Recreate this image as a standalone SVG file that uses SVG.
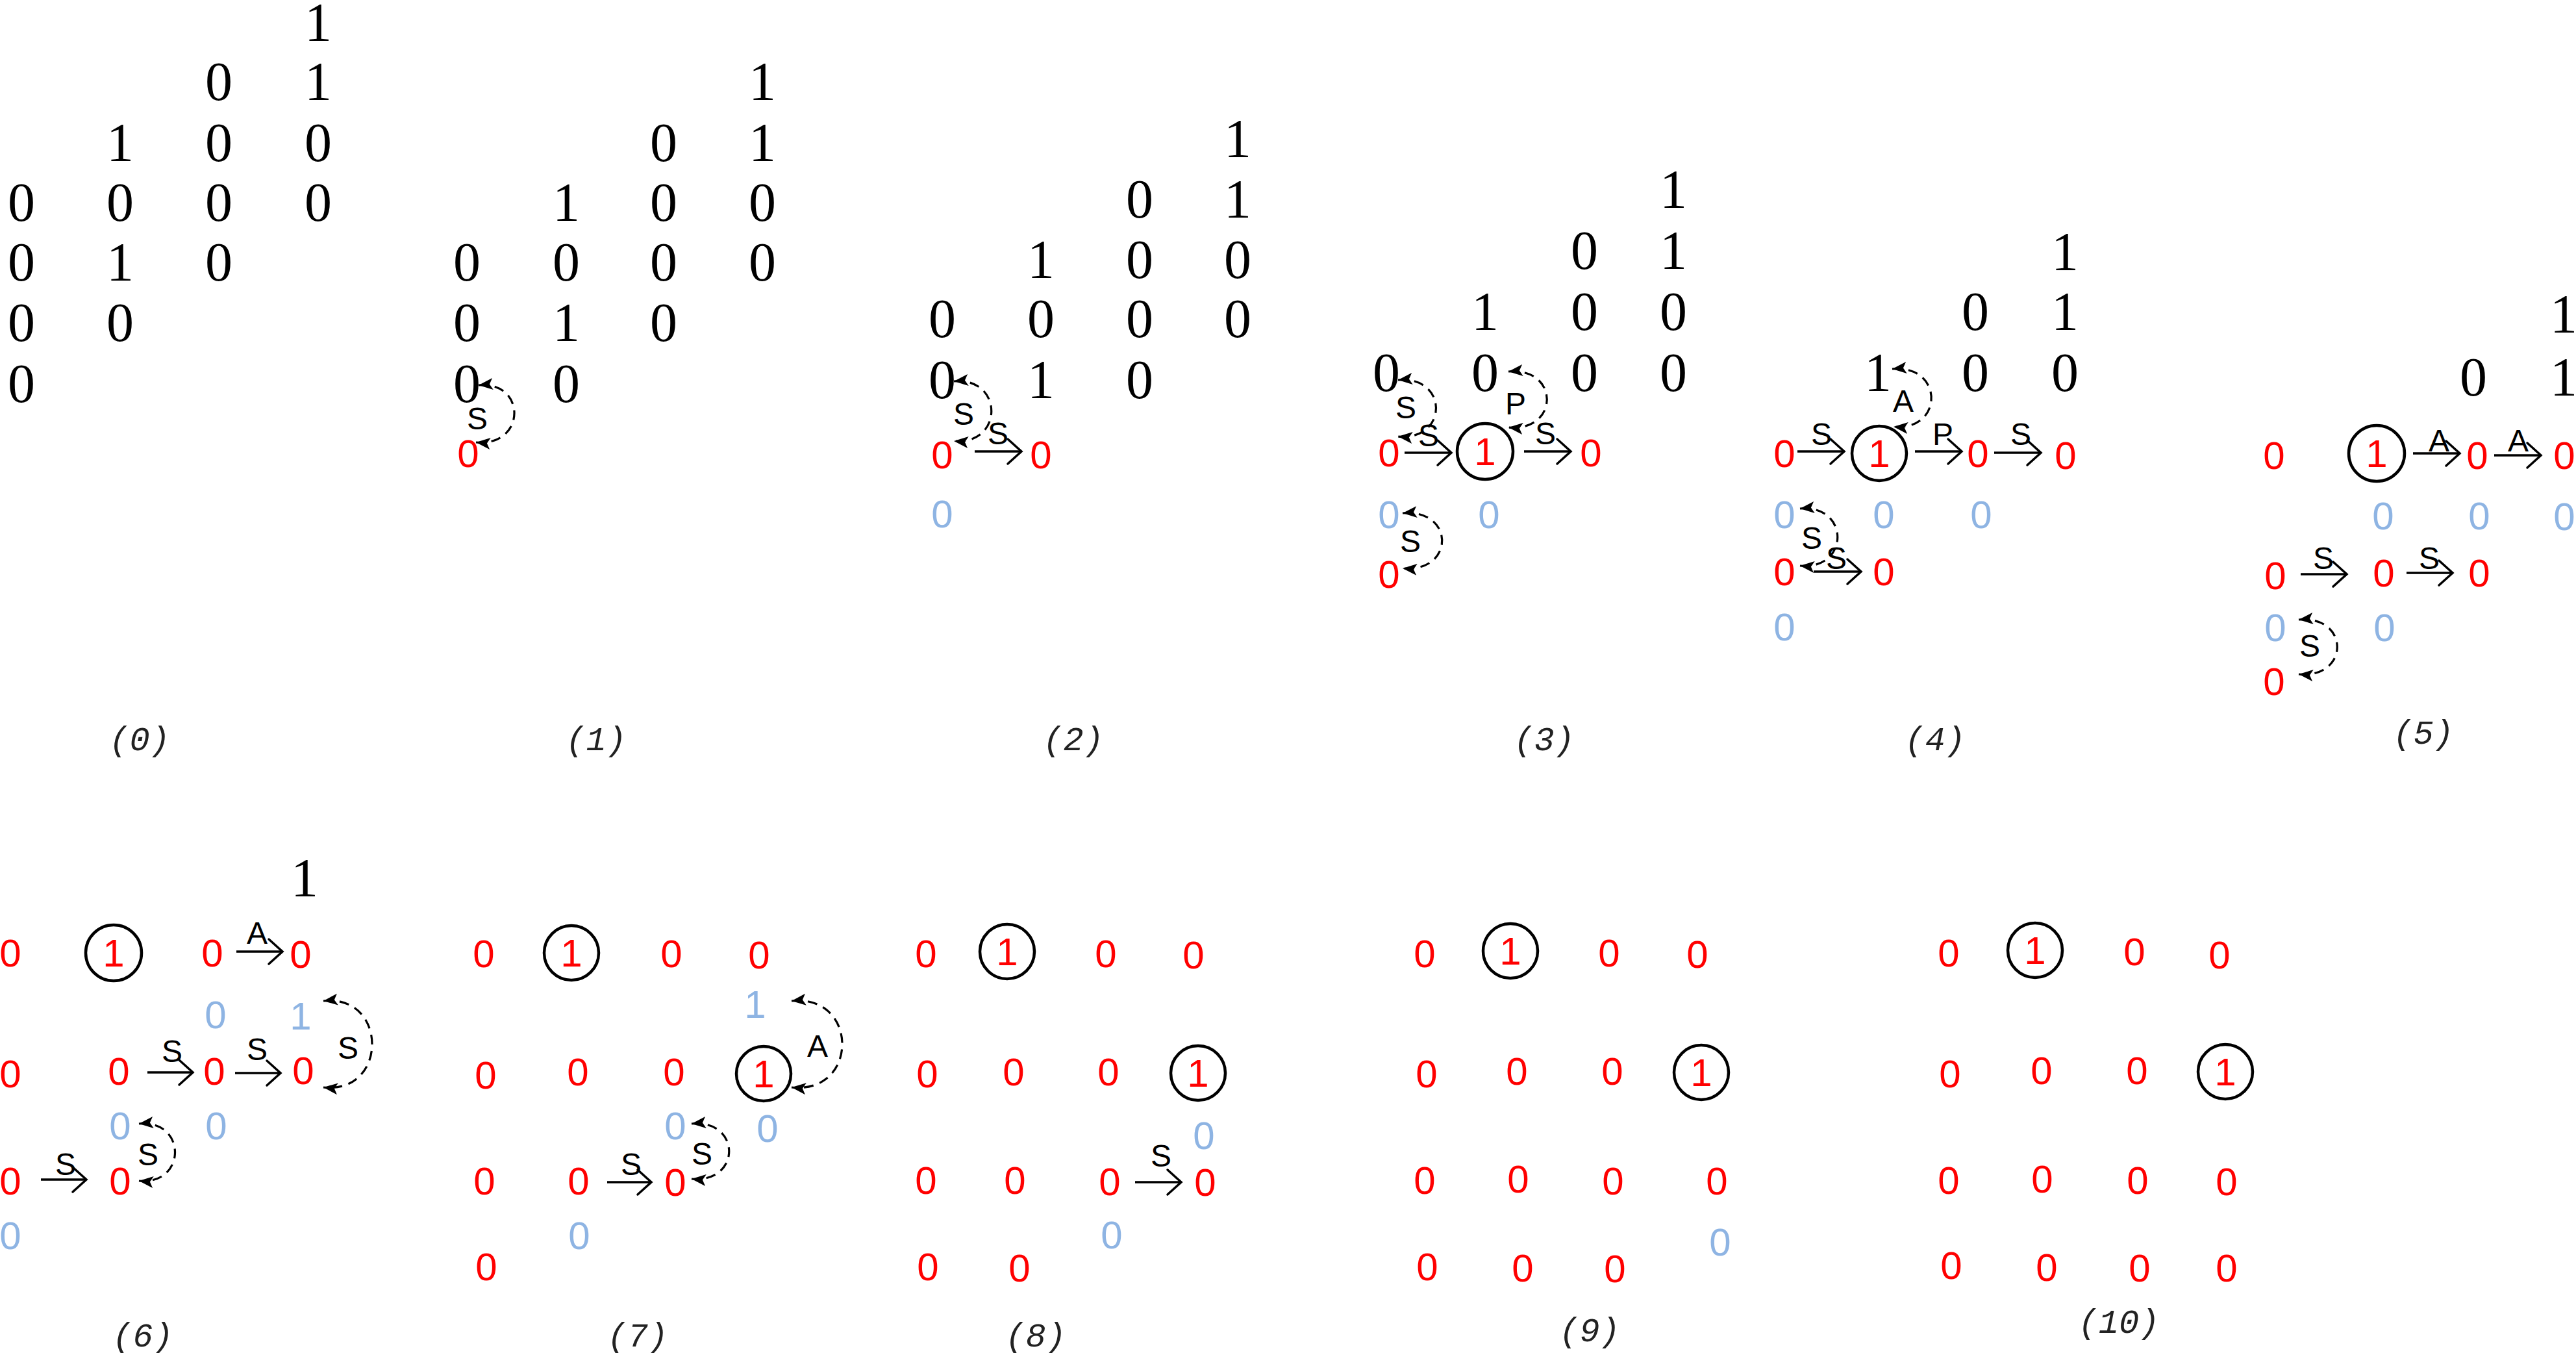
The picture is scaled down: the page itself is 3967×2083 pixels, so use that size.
<svg xmlns="http://www.w3.org/2000/svg" width="3967" height="2083" viewBox="0 0 3967 2083">
<style>
.b{font-family:"Liberation Serif","DejaVu Serif",serif;font-size:84px;fill:#000;text-anchor:middle}
.r{font-family:"Liberation Sans",Arial,sans-serif;font-size:60px;fill:#ff0000;text-anchor:middle}
.u{font-family:"Liberation Sans",Arial,sans-serif;font-size:60px;fill:#8eb4e3;text-anchor:middle}
.l{font-family:"Liberation Sans",Arial,sans-serif;font-size:48px;fill:#000;text-anchor:middle}
.cap{font-family:"Liberation Mono","DejaVu Sans Mono",monospace;font-style:italic;font-size:52px;fill:#222;text-anchor:middle}
.ring{fill:none;stroke:#000;stroke-width:4.5}
.arr{fill:none;stroke:#000;stroke-width:3.5;marker-end:url(#open)}
.loop{fill:none;stroke:#000;stroke-width:3.2;stroke-dasharray:15 10;marker-start:url(#tri);marker-end:url(#tri)}
</style>
<defs>
<marker id="open" markerUnits="userSpaceOnUse" markerWidth="40" markerHeight="50" refX="23" refY="21" orient="auto" overflow="visible">
<path d="M2,2 L23,21 L2,40" fill="none" stroke="#000" stroke-width="3.5" stroke-linecap="round"/>
</marker>
<marker id="tri" markerUnits="userSpaceOnUse" markerWidth="30" markerHeight="30" refX="22" refY="9" orient="auto-start-reverse" overflow="visible">
<path d="M0,0 L22,9 L0,18 L5,9 z" fill="#000"/>
</marker>
</defs>
<rect width="3967" height="2083" fill="#fff"/>

<g id="panel0">
<g id="p0-a"><text class="b" x="33" y="340">0</text></g>
<g id="p0-b"><text class="b" x="33" y="432">0</text></g>
<g id="p0-c"><text class="b" x="33" y="525">0</text></g>
<g id="p0-d"><text class="b" x="33" y="619">0</text></g>
<g id="p0-e"><text class="b" x="185" y="248">1</text></g>
<g id="p0-f"><text class="b" x="185" y="340">0</text></g>
<g id="p0-g"><text class="b" x="185" y="432">1</text></g>
<g id="p0-h"><text class="b" x="185" y="525">0</text></g>
<g id="p0-i"><text class="b" x="337" y="154">0</text></g>
<g id="p0-j"><text class="b" x="337" y="248">0</text></g>
<g id="p0-k"><text class="b" x="337" y="340">0</text></g>
<g id="p0-l"><text class="b" x="337" y="432">0</text></g>
<g id="p0-m"><text class="b" x="490" y="63">1</text></g>
<g id="p0-n"><text class="b" x="490" y="154">1</text></g>
<g id="p0-o"><text class="b" x="490" y="248">0</text></g>
<g id="p0-p"><text class="b" x="490" y="340">0</text></g>
<g id="p0-cap"><text class="cap" x="215" y="1155">(0)</text></g>
</g>

<g id="panel1">
<g id="p1-a"><text class="b" x="719" y="432">0</text></g>
<g id="p1-b"><text class="b" x="719" y="525">0</text></g>
<g id="p1-c"><text class="b" x="719" y="619">0</text></g>
<g id="p1-d"><text class="r" x="721" y="719">0</text></g>
<g id="p1-e"><text class="b" x="872" y="340">1</text></g>
<g id="p1-f"><text class="b" x="872" y="432">0</text></g>
<g id="p1-g"><text class="b" x="872" y="525">1</text></g>
<g id="p1-h"><text class="b" x="872" y="619">0</text></g>
<g id="p1-i"><text class="b" x="1022" y="248">0</text></g>
<g id="p1-j"><text class="b" x="1022" y="340">0</text></g>
<g id="p1-k"><text class="b" x="1022" y="432">0</text></g>
<g id="p1-l"><text class="b" x="1022" y="525">0</text></g>
<g id="p1-m"><text class="b" x="1174" y="154">1</text></g>
<g id="p1-n"><text class="b" x="1174" y="248">1</text></g>
<g id="p1-o"><text class="b" x="1174" y="340">0</text></g>
<g id="p1-p"><text class="b" x="1174" y="432">0</text></g>
<g id="p1-cap"><text class="cap" x="918" y="1155">(1)</text></g>
</g>

<g id="panel2">
<g id="p2-a"><text class="b" x="1451" y="519">0</text></g>
<g id="p2-b"><text class="b" x="1451" y="613">0</text></g>
<g id="p2-c"><text class="r" x="1451" y="721">0</text></g>
<g id="p2-d"><text class="u" x="1451" y="812">0</text></g>
<g id="p2-e"><text class="b" x="1603" y="428">1</text></g>
<g id="p2-f"><text class="b" x="1603" y="519">0</text></g>
<g id="p2-g"><text class="b" x="1603" y="613">1</text></g>
<g id="p2-h"><text class="r" x="1603" y="721">0</text></g>
<g id="p2-i"><text class="b" x="1755" y="335">0</text></g>
<g id="p2-j"><text class="b" x="1755" y="428">0</text></g>
<g id="p2-k"><text class="b" x="1755" y="519">0</text></g>
<g id="p2-l"><text class="b" x="1755" y="613">0</text></g>
<g id="p2-m"><text class="b" x="1906" y="242">1</text></g>
<g id="p2-n"><text class="b" x="1906" y="335">1</text></g>
<g id="p2-o"><text class="b" x="1906" y="428">0</text></g>
<g id="p2-p"><text class="b" x="1906" y="519">0</text></g>
<g id="p2-cap"><text class="cap" x="1653" y="1155">(2)</text></g>
</g>

<g id="panel3">
<g id="p3-a"><text class="b" x="2135" y="602">0</text></g>
<g id="p3-b"><text class="r" x="2139" y="718">0</text></g>
<g id="p3-c"><text class="u" x="2139" y="813">0</text></g>
<g id="p3-d"><text class="r" x="2139" y="905">0</text></g>
<g id="p3-e"><text class="b" x="2287" y="508">1</text></g>
<g id="p3-f"><text class="b" x="2287" y="602">0</text></g>
<g id="p3-g"><circle class="ring" cx="2287" cy="695" r="43"/><text class="r" x="2287" y="716">1</text></g>
<g id="p3-h"><text class="u" x="2293" y="813">0</text></g>
<g id="p3-i"><text class="b" x="2440" y="414">0</text></g>
<g id="p3-j"><text class="b" x="2440" y="508">0</text></g>
<g id="p3-k"><text class="b" x="2440" y="602">0</text></g>
<g id="p3-l"><text class="r" x="2450" y="718">0</text></g>
<g id="p3-m"><text class="b" x="2577" y="320">1</text></g>
<g id="p3-n"><text class="b" x="2577" y="414">1</text></g>
<g id="p3-o"><text class="b" x="2577" y="508">0</text></g>
<g id="p3-p"><text class="b" x="2577" y="602">0</text></g>
<g id="p3-cap"><text class="cap" x="2378" y="1155">(3)</text></g>
</g>

<g id="panel4">
<g id="p4-a"><text class="r" x="2748" y="719">0</text></g>
<g id="p4-b"><text class="u" x="2748" y="813">0</text></g>
<g id="p4-c"><text class="r" x="2748" y="901">0</text></g>
<g id="p4-d"><text class="u" x="2748" y="986">0</text></g>
<g id="p4-e"><text class="b" x="2892" y="602">1</text></g>
<g id="p4-f"><circle class="ring" cx="2894" cy="698" r="42"/><text class="r" x="2894" y="719">1</text></g>
<g id="p4-g"><text class="u" x="2901" y="813">0</text></g>
<g id="p4-h"><text class="r" x="2901" y="901">0</text></g>
<g id="p4-i"><text class="b" x="3042" y="508">0</text></g>
<g id="p4-j"><text class="b" x="3042" y="602">0</text></g>
<g id="p4-k"><text class="r" x="3046" y="719">0</text></g>
<g id="p4-l"><text class="u" x="3051" y="813">0</text></g>
<g id="p4-m"><text class="b" x="3180" y="416">1</text></g>
<g id="p4-n"><text class="b" x="3180" y="508">1</text></g>
<g id="p4-o"><text class="b" x="3180" y="602">0</text></g>
<g id="p4-p"><text class="r" x="3181" y="722">0</text></g>
<g id="p4-cap"><text class="cap" x="2980" y="1155">(4)</text></g>
</g>

<g id="panel5">
<g id="p5-a"><text class="r" x="3502" y="722">0</text></g>
<g id="p5-b"><circle class="ring" cx="3660" cy="698" r="43"/><text class="r" x="3660" y="719">1</text></g>
<g id="p5-c"><text class="r" x="3815" y="722">0</text></g>
<g id="p5-d"><text class="r" x="3949" y="722">0</text></g>
<g id="p5-e"><text class="b" x="3809" y="609">0</text></g>
<g id="p5-f"><text class="b" x="3948" y="512">1</text></g>
<g id="p5-g"><text class="b" x="3948" y="609">1</text></g>
<g id="p5-h"><text class="u" x="3670" y="815">0</text></g>
<g id="p5-i"><text class="u" x="3818" y="815">0</text></g>
<g id="p5-j"><text class="u" x="3949" y="816">0</text></g>
<g id="p5-k"><text class="r" x="3504" y="907">0</text></g>
<g id="p5-l"><text class="r" x="3671" y="903">0</text></g>
<g id="p5-m"><text class="r" x="3818" y="903">0</text></g>
<g id="p5-n"><text class="u" x="3504" y="987">0</text></g>
<g id="p5-o"><text class="u" x="3672" y="987">0</text></g>
<g id="p5-p"><text class="r" x="3502" y="1070">0</text></g>
<g id="p5-cap"><text class="cap" x="3732" y="1145">(5)</text></g>
</g>

<g id="panel6">
<g id="p6-a"><text class="b" x="469" y="1380">1</text></g>
<g id="p6-b"><text class="r" x="16" y="1488">0</text></g>
<g id="p6-c"><circle class="ring" cx="175" cy="1467" r="43"/><text class="r" x="175" y="1488">1</text></g>
<g id="p6-d"><text class="r" x="327" y="1488">0</text></g>
<g id="p6-e"><text class="r" x="463" y="1490">0</text></g>
<g id="p6-f"><text class="u" x="332" y="1583">0</text></g>
<g id="p6-g"><text class="u" x="463" y="1585">1</text></g>
<g id="p6-h"><text class="r" x="16" y="1674">0</text></g>
<g id="p6-i"><text class="r" x="183" y="1670">0</text></g>
<g id="p6-j"><text class="r" x="330" y="1670">0</text></g>
<g id="p6-k"><text class="r" x="467" y="1669">0</text></g>
<g id="p6-l"><text class="u" x="185" y="1754">0</text></g>
<g id="p6-m"><text class="u" x="333" y="1754">0</text></g>
<g id="p6-n"><text class="r" x="16" y="1839">0</text></g>
<g id="p6-o"><text class="r" x="185" y="1839">0</text></g>
<g id="p6-p"><text class="u" x="16" y="1923">0</text></g>
<g id="p6-cap"><text class="cap" x="220" y="2073">(6)</text></g>
</g>

<g id="panel7">
<g id="p7-a"><text class="r" x="745" y="1489">0</text></g>
<g id="p7-b"><circle class="ring" cx="880" cy="1467" r="42"/><text class="r" x="880" y="1488">1</text></g>
<g id="p7-c"><text class="r" x="1034" y="1489">0</text></g>
<g id="p7-d"><text class="r" x="1169" y="1491">0</text></g>
<g id="p7-e"><text class="u" x="1163" y="1567">1</text></g>
<g id="p7-f"><text class="r" x="748" y="1676">0</text></g>
<g id="p7-g"><text class="r" x="890" y="1671">0</text></g>
<g id="p7-h"><text class="r" x="1038" y="1671">0</text></g>
<g id="p7-i"><circle class="ring" cx="1176" cy="1653" r="42"/><text class="r" x="1176" y="1674">1</text></g>
<g id="p7-j"><text class="u" x="1040" y="1754">0</text></g>
<g id="p7-k"><text class="u" x="1182" y="1758">0</text></g>
<g id="p7-l"><text class="r" x="746" y="1839">0</text></g>
<g id="p7-m"><text class="r" x="891" y="1839">0</text></g>
<g id="p7-n"><text class="r" x="1040" y="1841">0</text></g>
<g id="p7-o"><text class="u" x="892" y="1923">0</text></g>
<g id="p7-p"><text class="r" x="749" y="1971">0</text></g>
<g id="p7-cap"><text class="cap" x="982" y="2073">(7)</text></g>
</g>

<g id="panel8">
<g id="p8-a"><text class="r" x="1426" y="1489">0</text></g>
<g id="p8-b"><circle class="ring" cx="1551" cy="1465" r="42"/><text class="r" x="1551" y="1486">1</text></g>
<g id="p8-c"><text class="r" x="1703" y="1489">0</text></g>
<g id="p8-d"><text class="r" x="1838" y="1491">0</text></g>
<g id="p8-e"><text class="r" x="1428" y="1674">0</text></g>
<g id="p8-f"><text class="r" x="1561" y="1671">0</text></g>
<g id="p8-g"><text class="r" x="1707" y="1671">0</text></g>
<g id="p8-h"><circle class="ring" cx="1845" cy="1652" r="42"/><text class="r" x="1845" y="1673">1</text></g>
<g id="p8-i"><text class="u" x="1854" y="1769">0</text></g>
<g id="p8-j"><text class="r" x="1426" y="1838">0</text></g>
<g id="p8-k"><text class="r" x="1563" y="1838">0</text></g>
<g id="p8-l"><text class="r" x="1709" y="1840">0</text></g>
<g id="p8-m"><text class="r" x="1856" y="1841">0</text></g>
<g id="p8-n"><text class="u" x="1712" y="1922">0</text></g>
<g id="p8-o"><text class="r" x="1429" y="1971">0</text></g>
<g id="p8-p"><text class="r" x="1570" y="1973">0</text></g>
<g id="p8-cap"><text class="cap" x="1595" y="2073">(8)</text></g>
</g>

<g id="panel9">
<g id="p9-a"><text class="r" x="2194" y="1489">0</text></g>
<g id="p9-b"><circle class="ring" cx="2326" cy="1464" r="42"/><text class="r" x="2326" y="1485">1</text></g>
<g id="p9-c"><text class="r" x="2478" y="1488">0</text></g>
<g id="p9-d"><text class="r" x="2614" y="1490">0</text></g>
<g id="p9-e"><text class="r" x="2197" y="1674">0</text></g>
<g id="p9-f"><text class="r" x="2336" y="1670">0</text></g>
<g id="p9-g"><text class="r" x="2483" y="1670">0</text></g>
<g id="p9-h"><circle class="ring" cx="2620" cy="1651" r="42"/><text class="r" x="2620" y="1672">1</text></g>
<g id="p9-i"><text class="r" x="2194" y="1838">0</text></g>
<g id="p9-j"><text class="r" x="2338" y="1836">0</text></g>
<g id="p9-k"><text class="r" x="2484" y="1839">0</text></g>
<g id="p9-l"><text class="r" x="2644" y="1839">0</text></g>
<g id="p9-m"><text class="u" x="2649" y="1933">0</text></g>
<g id="p9-n"><text class="r" x="2198" y="1971">0</text></g>
<g id="p9-o"><text class="r" x="2345" y="1973">0</text></g>
<g id="p9-p"><text class="r" x="2487" y="1974">0</text></g>
<g id="p9-cap"><text class="cap" x="2448" y="2065">(9)</text></g>
</g>

<g id="panel10">
<g id="p10-a"><text class="r" x="3001" y="1488">0</text></g>
<g id="p10-b"><circle class="ring" cx="3134" cy="1463" r="42"/><text class="r" x="3134" y="1484">1</text></g>
<g id="p10-c"><text class="r" x="3287" y="1486">0</text></g>
<g id="p10-d"><text class="r" x="3418" y="1491">0</text></g>
<g id="p10-e"><text class="r" x="3003" y="1674">0</text></g>
<g id="p10-f"><text class="r" x="3144" y="1669">0</text></g>
<g id="p10-g"><text class="r" x="3291" y="1669">0</text></g>
<g id="p10-h"><circle class="ring" cx="3427" cy="1650" r="42"/><text class="r" x="3427" y="1671">1</text></g>
<g id="p10-i"><text class="r" x="3001" y="1838">0</text></g>
<g id="p10-j"><text class="r" x="3145" y="1836">0</text></g>
<g id="p10-k"><text class="r" x="3292" y="1838">0</text></g>
<g id="p10-l"><text class="r" x="3429" y="1840">0</text></g>
<g id="p10-m"><text class="r" x="3005" y="1969">0</text></g>
<g id="p10-n"><text class="r" x="3152" y="1972">0</text></g>
<g id="p10-o"><text class="r" x="3295" y="1973">0</text></g>
<g id="p10-p"><text class="r" x="3429" y="1973">0</text></g>
<g id="p10-cap"><text class="cap" x="3263" y="2052">(10)</text></g>
</g>

<g id="connectors">
<path class="loop" d="M737,593 C811,586 811,688 733,681"/>
<text class="l" x="735" y="661">S</text>

<path class="loop" d="M1469,587 C1546,580 1546,686 1469,679"/>
<text class="l" x="1484" y="654">S</text>
<line class="arr" x1="1501" y1="695" x2="1573" y2="695"/>
<text class="l" x="1537" y="684">S</text>

<path class="loop" d="M2153,585 C2231,578 2231,679 2153,672"/>
<text class="l" x="2165" y="644">S</text>
<path class="loop" d="M2323,572 C2402,565 2402,665 2323,658"/>
<text class="l" x="2334" y="638">P</text>
<path class="loop" d="M2160,790 C2241,783 2241,882 2160,875"/>
<text class="l" x="2172" y="850">S</text>
<line class="arr" x1="2163" y1="697" x2="2235" y2="697"/>
<text class="l" x="2200" y="687">S</text>
<line class="arr" x1="2347" y1="695" x2="2419" y2="695"/>
<text class="l" x="2380" y="684">S</text>

<line class="arr" x1="2768" y1="695" x2="2840" y2="695"/>
<text class="l" x="2805" y="685">S</text>
<line class="arr" x1="2949" y1="695" x2="3021" y2="695"/>
<text class="l" x="2992" y="685">P</text>
<line class="arr" x1="3071" y1="697" x2="3143" y2="697"/>
<text class="l" x="3112" y="685">S</text>
<path class="loop" d="M2914,568 C2994,561 2994,664 2916,657"/>
<text class="l" x="2931" y="634">A</text>
<path class="loop" d="M2772,783 C2849,776 2849,878 2772,871"/>
<text class="l" x="2790" y="845">S</text>
<line class="arr" x1="2793" y1="880" x2="2866" y2="880"/>
<text class="l" x="2828" y="876">S</text>

<line class="arr" x1="3716" y1="698" x2="3788" y2="698"/>
<text class="l" x="3756" y="695">A</text>
<line class="arr" x1="3841" y1="701" x2="3913" y2="701"/>
<text class="l" x="3878" y="695">A</text>
<line class="arr" x1="3543" y1="884" x2="3614" y2="884"/>
<text class="l" x="3578" y="876">S</text>
<line class="arr" x1="3706" y1="882" x2="3777" y2="882"/>
<text class="l" x="3741" y="876">S</text>
<path class="loop" d="M3540,954 C3619,947 3619,1045 3540,1038"/>
<text class="l" x="3557" y="1011">S</text>

<line class="arr" x1="364" y1="1465" x2="435" y2="1465"/>
<text class="l" x="396" y="1453">A</text>
<line class="arr" x1="227" y1="1651" x2="297" y2="1651"/>
<text class="l" x="265" y="1635">S</text>
<line class="arr" x1="362" y1="1652" x2="432" y2="1652"/>
<text class="l" x="396" y="1632">S</text>
<path class="loop" d="M498,1541 C598,1530 598,1685 498,1674"/>
<text class="l" x="536" y="1630">S</text>
<path class="loop" d="M214,1730 C288,1723 288,1825 214,1818"/>
<text class="l" x="228" y="1794">S</text>
<line class="arr" x1="63" y1="1816" x2="133" y2="1816"/>
<text class="l" x="101" y="1809">S</text>

<path class="loop" d="M1219,1541 C1323,1530 1323,1685 1219,1674"/>
<text class="l" x="1259" y="1627">A</text>
<path class="loop" d="M1065,1730 C1142,1723 1142,1822 1065,1815"/>
<text class="l" x="1081" y="1793">S</text>
<line class="arr" x1="935" y1="1820" x2="1003" y2="1820"/>
<text class="l" x="972" y="1809">S</text>

<line class="arr" x1="1748" y1="1820" x2="1819" y2="1820"/>
<text class="l" x="1788" y="1796">S</text>
</g>
</svg>
